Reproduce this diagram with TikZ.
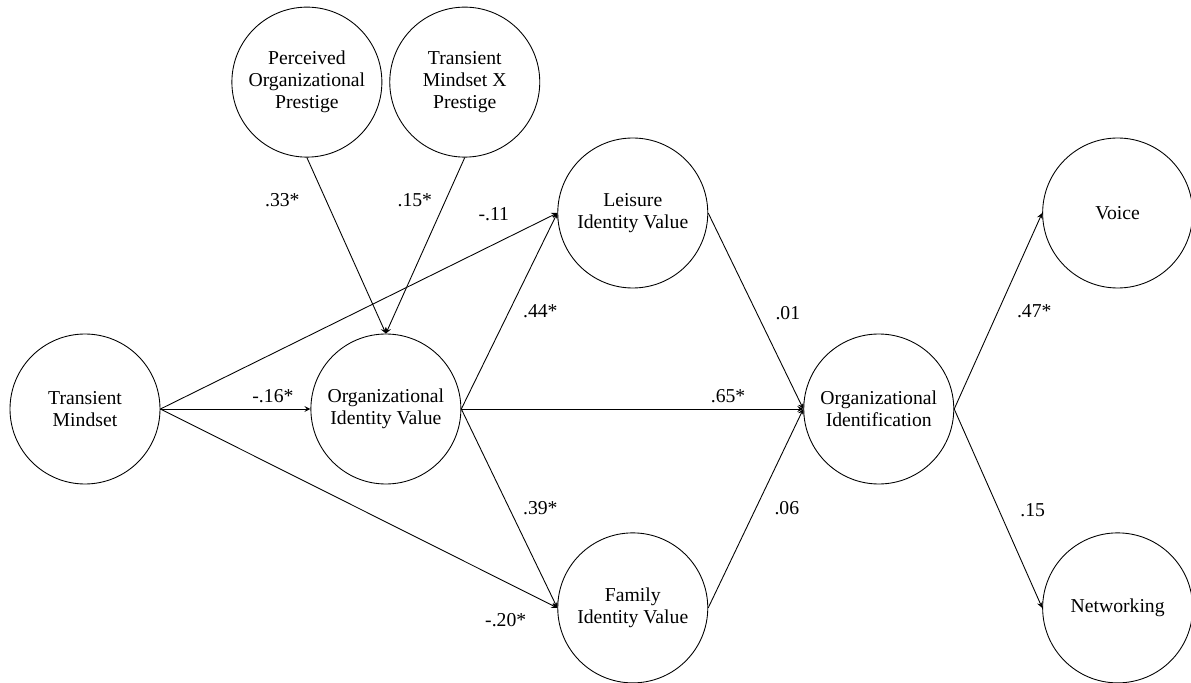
\documentclass[tikz,border=0pt]{standalone}
\usepackage{fontspec}
\setmainfont{Liberation Serif}
\usepackage{tikz}
\usetikzlibrary{shapes,arrows,positioning}

\begin{document}
\begin{tikzpicture}[
    construct/.style={circle, draw, line width=0.5pt, minimum size=3cm, inner sep=0pt, align=center, font=\fontsize{11.2}{12.6}\selectfont},
    path_arrow/.style={->, >=stealth, line width=0.5pt},
    coef/.style={font=\fontsize{11.2}{12.6}\selectfont}
]
    \useasboundingbox (0,0) rectangle (23.82,-13.66);

    % Predictors
    \node[construct] (transient) at (1.70,-8.18) {Transient\\Mindset};
    \node[construct, right=3cm of transient] (org_value) {Organizational\\Identity Value};
    \node[construct, above=3.52cm of org_value, xshift=-1.58cm] (prestige) {Perceived\\Organizational\\Prestige};
    \node[construct, right=0.14cm of prestige] (interaction) {Transient\\Mindset X\\Prestige};

    % Mediators
    \node[construct, right=1.92cm of org_value, yshift=3.92cm] (leisure) {Leisure\\Identity Value};
    \node[construct, below=4.88cm of leisure] (family) {Family\\Identity Value};
    \node[construct, right=6.84cm of org_value] (org_ident) {Organizational\\Identification};

    % Outcomes
    \node[construct, right=1.76cm of org_ident, yshift=3.92cm] (voice) {Voice};
    \node[construct, below=4.88cm of voice] (networking) {Networking};

    % Paths
    \draw[path_arrow] (prestige.south) -- node[coef, pos=.24, left=4mm] {.33*} (org_value.north);
    \draw[path_arrow] (interaction.south) -- node[coef, pos=.24, left=1.5mm] {.15*} (org_value.north);
    \draw[path_arrow] (transient.east) -- node[coef, pos=.75, above] {-.16*} (org_value.west);
    \draw[path_arrow] (transient.east) -- node[coef, pos=.84, above=3.5mm] {-.11} (leisure.west);
    \draw[path_arrow] (transient.east) -- node[coef, pos=.87, below=5mm] {-.20*} (family.west);
    \draw[path_arrow] (org_value.east) -- node[coef, pos=.5, right=1.5mm] {.44*} (leisure.west);
    \draw[path_arrow] (org_value.east) -- node[coef, pos=.5, right=1.5mm] {.39*} (family.west);
    \draw[path_arrow] (org_value.east) -- node[coef, pos=.78, above] {.65*} (org_ident.west);
    \draw[path_arrow] (leisure.east) -- node[coef, pos=.51, right=2.5mm] {.01} (org_ident.west);
    \draw[path_arrow] (family.east) -- node[coef, pos=.5, right=2.5mm] {.06} (org_ident.west);
    \draw[path_arrow] (org_ident.east) -- node[coef, pos=.5, right=2.5mm] {.47*} (voice.west);
    \draw[path_arrow] (org_ident.east) -- node[coef, pos=.51, right=3mm] {.15} (networking.west);
\end{tikzpicture}
\end{document}
